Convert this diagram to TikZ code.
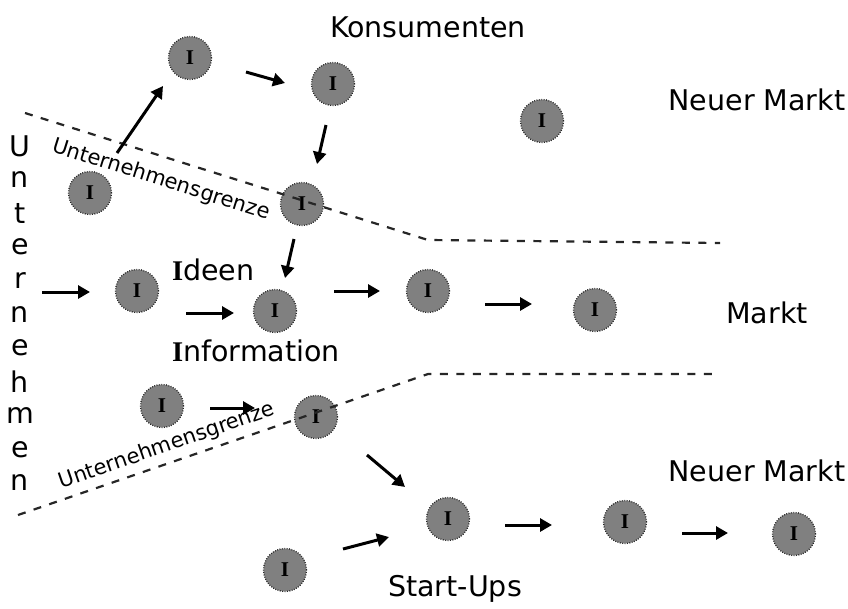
\documentclass[tikz,border=0pt]{standalone}
\usepackage{fontspec}
\setmainfont{DejaVu Sans}
\newfontfamily\iserif{Liberation Serif}
\usetikzlibrary{arrows.meta}
\tikzset{
  inode/.style={circle, fill=black!50, draw=black!85, line width=1.4pt, dash pattern=on 0.8pt off 1.6pt, minimum size=43pt, inner sep=0pt, font=\iserif\bfseries\fontsize{21}{21}\selectfont, text=black},
  flow/.style={line width=3pt, -{Triangle[length=12pt,width=13pt]}},
  bound/.style={line width=2.2pt, dash pattern=on 8pt off 8.5pt, black!85},
  lbl/.style={font=\fontsize{28.5}{31}\selectfont},
  glbl/.style={font=\fontsize{21}{22}\selectfont, inner sep=0pt},
  vletter/.style={font=\fontsize{28.5}{30}\selectfont, inner sep=0pt}
}
\begin{document}
\begin{tikzpicture}[x=1pt,y=-1pt]
\useasboundingbox (0,0) rectangle (848,608);
% nodes
\node[inode] (n1) at (190,58) {I};
\node[inode] (n2) at (333,84) {I};
\node[inode] (n3) at (542,121) {I};
\node[inode] (n4) at (90,193) {I};
\node[inode] (n5) at (302,204) {I};
\node[inode] (n6) at (137,291) {I};
\node[inode] (n7) at (275,311) {I};
\node[inode] (n8) at (428,291) {I};
\node[inode] (n9) at (595,310) {I};
\node[inode] (n10) at (162,406) {I};
\node[inode] (n11) at (316,417) {I};
\node[inode] (n12) at (448,519) {I};
\node[inode] (n13) at (625,522) {I};
\node[inode] (n14) at (794,534) {I};
\node[inode] (n15) at (285,570) {I};
% boundaries
\coordinate (ua) at (25,113);
\coordinate (ub) at (428,240);
\coordinate (uc) at (720,243);
\coordinate (la) at (18,515);
\coordinate (lb) at (428,374);
\coordinate (lc) at (720,374);
\draw[bound] (ua) -- (ub) -- (uc);
\draw[bound] (la) -- (lb) -- (lc);
% arrows
\coordinate (a1s) at (117,153); \coordinate (a1e) at (163,86);
\coordinate (a2s) at (246,72); \coordinate (a2e) at (285,83);
\coordinate (a3s) at (326,125); \coordinate (a3e) at (317,164);
\coordinate (a4s) at (294,239); \coordinate (a4e) at (285,278);
\coordinate (a5s) at (42,292); \coordinate (a5e) at (90,292);
\coordinate (a6s) at (186,313); \coordinate (a6e) at (234,313);
\coordinate (a7s) at (334,291); \coordinate (a7e) at (380,291);
\coordinate (a8s) at (485,304); \coordinate (a8e) at (532,304);
\coordinate (a9s) at (210,408); \coordinate (a9e) at (255,408);
\coordinate (a10s) at (367,455); \coordinate (a10e) at (405,487);
\coordinate (a11s) at (343,549); \coordinate (a11e) at (389,537);
\coordinate (a12s) at (505,525); \coordinate (a12e) at (552,525);
\coordinate (a13s) at (682,533); \coordinate (a13e) at (728,533);
\foreach \i in {1,...,13} {\draw[flow] (a\i s) -- (a\i e);}
% labels
\node[lbl] (kons) at (428,27) {Konsumenten};
\node[lbl] (nm1) at (757,100) {Neuer Markt};
\node[lbl] (mk) at (767,313) {Markt};
\node[lbl] (nm2) at (757,471) {Neuer Markt};
\node[lbl] (su) at (455,589) {Start-Ups};
\node[lbl, anchor=west, inner sep=0pt] (ideen) at (172,270) {{\iserif\bfseries I}deen};
\node[lbl, anchor=west, inner sep=0pt] (info) at (172,351) {{\iserif\bfseries I}nformation};
\node[glbl, rotate=-17.5] (ug1) at (161,180) {Unternehmensgrenze};
\node[glbl, rotate=19] (ug2) at (167,446) {Unternehmensgrenze};
% vertical word
\foreach \c [count=\k from 0] in {U,n,t,e,r,n,e,h,m,e,n}
  {\node[vletter] (v\k) at (20,{146+33.7*\k}) {\c};}
\end{tikzpicture}
\end{document}
